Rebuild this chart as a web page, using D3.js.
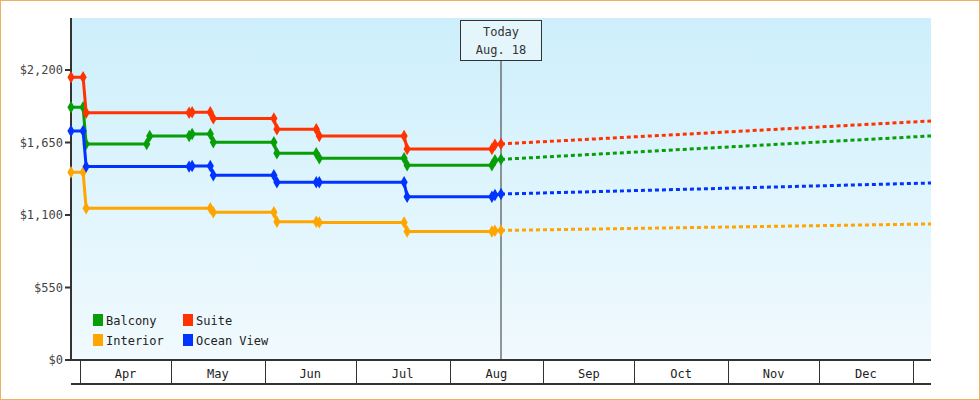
<!DOCTYPE html>
<html><head><meta charset="utf-8">
<script src="https://cdn.jsdelivr.net/npm/d3@7"></script>
<style>
body{margin:0;background:#fff;}
svg{font-family:"DejaVu Sans Mono",monospace;font-size:12px;}
</style></head><body>
<svg id="chart" width="980" height="400"></svg>
<script>
// history points: [date, price]
const suite = [['2024-03-29',2145],['2024-04-02',2145],['2024-04-03',1876],['2024-05-07',1876],['2024-05-08',1880],['2024-05-14',1880],['2024-05-15',1833],['2024-06-04',1833],['2024-06-05',1750],['2024-06-18',1750],['2024-06-19',1700],['2024-07-17',1700],['2024-07-18',1601],['2024-08-15',1601],['2024-08-16',1633],['2024-08-18',1639]];
const balcony = [['2024-03-29',1917],['2024-04-02',1917],['2024-04-03',1639],['2024-04-23',1639],['2024-04-24',1700],['2024-05-07',1700],['2024-05-08',1715],['2024-05-14',1715],['2024-05-15',1652],['2024-06-04',1652],['2024-06-05',1568],['2024-06-18',1568],['2024-06-19',1530],['2024-07-17',1530],['2024-07-18',1477],['2024-08-15',1477],['2024-08-16',1515],['2024-08-18',1522]];
const oceanView = [['2024-03-29',1737],['2024-04-02',1737],['2024-04-03',1467],['2024-05-07',1467],['2024-05-08',1472],['2024-05-14',1472],['2024-05-15',1401],['2024-06-04',1401],['2024-06-05',1348],['2024-06-18',1348],['2024-06-19',1348],['2024-07-17',1348],['2024-07-18',1239],['2024-08-15',1239],['2024-08-16',1252],['2024-08-18',1259]];
const interior = [['2024-03-29',1424],['2024-04-02',1424],['2024-04-03',1151],['2024-05-14',1151],['2024-05-15',1121],['2024-06-04',1121],['2024-06-05',1049],['2024-06-18',1049],['2024-06-19',1044],['2024-07-17',1044],['2024-07-18',974],['2024-08-15',974],['2024-08-16',980],['2024-08-18',983]];
// forecast end values
const forecastEnd = '2025-01-07';
const forecast = {Suite:1813, Balcony:1700, 'Ocean View':1343, Interior:1032};
const yTicks = [0,550,1100,1650,2200];
const months = ['Apr','May','Jun','Jul','Aug','Sep','Oct','Nov','Dec'];
const series = [
  {name:'Balcony', color:'#079e07', data:balcony},
  {name:'Suite', color:'#ff3300', data:suite},
  {name:'Interior', color:'#ffa500', data:interior},
  {name:'Ocean View', color:'#0033ff', data:oceanView}
];

const svg = d3.select('#chart');
const parse = d3.timeParse('%Y-%m-%d');
const pLeft = 71, pRight = 931, pTop = 18, pBottom = 360;

const x = d3.scaleTime().domain([parse('2024-03-29'), parse(forecastEnd)]).range([pLeft, pRight]);
const y = d3.scaleLinear().domain([0, 2200]).range([pBottom, 70]);

svg.append('rect').attr('x',0.5).attr('y',0.5).attr('width',979).attr('height',399)
  .attr('fill','#fff').attr('stroke','#f0b060');

const grad = svg.append('defs').append('linearGradient').attr('id','bg')
  .attr('x1',0).attr('y1',0).attr('x2',0).attr('y2',1);
grad.append('stop').attr('offset','0%').attr('stop-color','#cdeffb');
grad.append('stop').attr('offset','100%').attr('stop-color','#f1fafe');
svg.append('rect').attr('x',pLeft).attr('y',pTop).attr('width',pRight-pLeft).attr('height',pBottom-pTop)
  .attr('fill','url(#bg)');

// today line + box
const today = parse('2024-08-18');
svg.append('line').attr('x1',x(today)).attr('x2',x(today)).attr('y1',60).attr('y2',pBottom)
  .attr('stroke','#333');
svg.append('rect').attr('x',x(today)-40.5).attr('y',20.5).attr('width',81).attr('height',40)
  .attr('fill','#e4f6fc').attr('stroke','#333');
svg.append('text').attr('x',x(today)).attr('y',36).attr('text-anchor','middle').attr('fill','#333').text('Today');
svg.append('text').attr('x',x(today)).attr('y',54).attr('text-anchor','middle').attr('fill','#333').text('Aug. 18');

// y axis
svg.append('line').attr('x1',pLeft).attr('x2',pLeft).attr('y1',pTop).attr('y2',pBottom).attr('stroke','#333').attr('stroke-width',2);
yTicks.forEach(t => {
  svg.append('line').attr('x1',pLeft-6).attr('x2',pLeft).attr('y1',y(t)).attr('y2',y(t)).attr('stroke','#333').attr('stroke-width',2);
  svg.append('text').attr('x',pLeft-8).attr('y',y(t)+4).attr('text-anchor','end').attr('fill','#444')
    .text(d3.format('$,')(t));
});

// x axis band
svg.append('line').attr('x1',pLeft).attr('x2',pRight).attr('y1',pBottom).attr('y2',pBottom).attr('stroke','#333').attr('stroke-width',2);
svg.append('line').attr('x1',pLeft).attr('x2',pRight).attr('y1',384).attr('y2',384).attr('stroke','#333').attr('stroke-width',2);
const monthStarts = months.map((m,i) => new Date(2024, 3+i, 1));
monthStarts.concat([new Date(2025,0,1)]).forEach(d => {
  svg.append('line').attr('x1',Math.round(x(d))+0.5).attr('x2',Math.round(x(d))+0.5).attr('y1',pBottom).attr('y2',384).attr('stroke','#333');
});
months.forEach((m,i) => {
  const mid = (x(monthStarts[i]) + x(new Date(2024, 4+i, 1))) / 2;
  svg.append('text').attr('x',mid).attr('y',378).attr('text-anchor','middle').attr('fill','#222').text(m);
});

const line = d3.line().x(d => x(parse(d[0]))).y(d => y(d[1]));
series.forEach(s => {
  const last = s.data[s.data.length-1];
  svg.append('path').datum([last,[forecastEnd, forecast[s.name]]]).attr('d',line)
    .attr('fill','none').attr('stroke',s.color).attr('stroke-width',3).attr('stroke-dasharray','4,3');
  svg.append('path').datum(s.data).attr('d',line)
    .attr('fill','none').attr('stroke',s.color).attr('stroke-width',3);
  svg.selectAll(null).data(s.data).enter().append('path')
    .attr('transform',d => 'translate(' + x(parse(d[0])) + ',' + y(d[1]) + ')')
    .attr('d', d3.symbol(d3.symbolDiamond, 45)).attr('fill',s.color);
});

// legend
series.forEach((s,i) => {
  const lx = 93 + (i % 2) * 90, ly = 314 + Math.floor(i / 2) * 20;
  svg.append('rect').attr('x',lx).attr('y',ly).attr('width',10).attr('height',12).attr('fill',s.color);
  svg.append('text').attr('x',lx+13).attr('y',ly+11).attr('fill','#222').text(s.name);
});
</script>
</body></html>
